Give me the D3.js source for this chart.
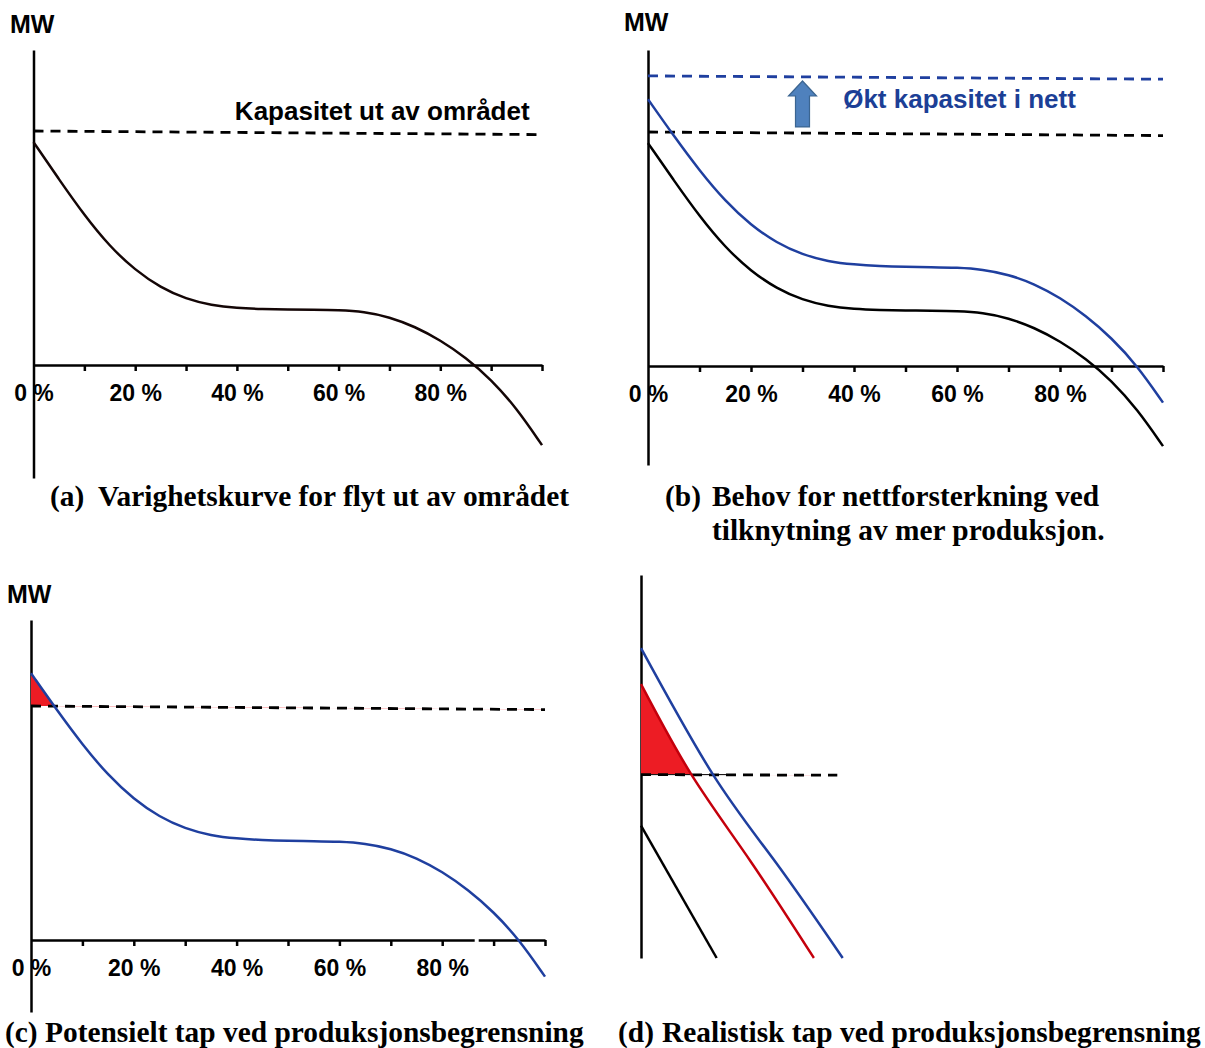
<!DOCTYPE html>
<html>
<head>
<meta charset="utf-8">
<script src="https://cdn.jsdelivr.net/npm/d3@7"></script>
<style>
  html, body { margin: 0; padding: 0; background: #fff; }
  svg { display: block; }
</style>
</head>
<body>
<svg id="fig" width="1205" height="1048"></svg>
<script>
// ---- Duration curves: share of time (%) against flow (MW, relative units) ----
const durationPct = [0, 5, 10, 15, 20, 25, 30, 35, 40, 45, 50, 55, 60, 65, 70, 75, 80, 85, 90, 95, 100];
// flow out of the area today
const flowMW = [74.3, 61.9, 49.9, 39.5, 31.6, 25.8, 22.0, 19.9, 19.0, 18.65, 18.5, 18.4, 18.3, 17.8, 16.0, 12.8, 8.3, 2.5, -4.8, -14.4, -26.7];
// flow with more production connected
const flowMoreMW = [88.9, 76.7, 65.1, 54.9, 46.9, 41.0, 37.1, 34.8, 33.8, 33.3, 33.05, 32.95, 32.8, 32.2, 30.5, 27.4, 22.8, 16.8, 9.4, 0.1, -12.2];

// transfer capacity out of the area (existing and reinforced grid)
const capacityPct = [0, 100];
const capacityMW = [78.0, 76.8];
const capacityNewMW = [96.7, 95.6];

// axis ticks
const tickPct = [10, 20, 30, 40, 50, 60, 70, 80, 90, 100];
const labelPct = [0, 20, 40, 60, 80];

// reinforcement arrow (panel b)
const arrowPct = 30;
const arrowFromMW = 79.7;
const arrowToMW = 95.0;

// ---- Panel (d): close-up of the first part of the duration axis ----
const zoomInstalledPct = [0, 4.0, 7.5, 11.2];
const zoomInstalledMW = [88.9, 78.0, 70.4, 62.2];
const zoomRealisticPct = [0, 2.8, 6.1, 9.6];
const zoomRealisticMW = [85.8, 78.0, 70.5, 62.2];
const zoomTodayPct = [0, 4.2];
const zoomTodayMW = [73.6, 62.2];
const zoomCapPct = [0, 10.9];
const zoomCapMW = [78.0, 77.95];
const zoomCapGuidePct = [0, 5.1];

// ---- Texts ----
const yLabel = "MW";
const capacityLabel = "Kapasitet ut av området";
const newCapacityLabel = "Økt kapasitet i nett";
const captionA = ["(a)", "Varighetskurve for flyt ut av området"];
const captionB = ["(b)", "Behov for nettforsterkning ved", "tilknytning av mer produksjon."];
const captionC = ["(c)", "Potensielt tap ved produksjonsbegrensning"];
const captionD = ["(d)", "Realistisk tap ved produksjonsbegrensning"];

// ---- Styles ----
const BLACK = "#000";
const BLUE = "#1f3f9f";
const BLUE_TEXT = "#1c3f96";
const RED_FILL = "#ed1c24";
const RED_LINE = "#c4000c";
const SANS = "'Liberation Sans', Arial, Helvetica, sans-serif";
const SERIF = "'Liberation Serif', 'Times New Roman', Times, serif";
const LW = 2.5;
const DASH_W = 2.8;
const DASH = "10,7";

const svg = d3.select("#fig");
const defs = svg.append("defs");
const pts = (xs, ys) => d3.zip(xs, ys);

// A panel: x over 0–100 %, y in MW with 3 px per unit, zero on the x axis.
function makePanel(left, right, axisY, top, bottom) {
  const x = d3.scaleLinear().domain([0, 100]).range([left, right]);
  const y = d3.scaleLinear()
    .domain([(axisY - bottom) / 3, (axisY - top) / 3])
    .range([bottom, top]);
  return { x, y };
}

function drawYAxis(g, x, y) {
  const ax = g.append("g")
    .attr("transform", `translate(${x.range()[0]},0)`)
    .call(d3.axisLeft(y).tickValues([]).tickSizeOuter(0));
  ax.select(".domain").attr("stroke", BLACK).attr("stroke-width", LW);
}

function drawXAxis(g, x, y) {
  const ax = g.append("g")
    .attr("transform", `translate(0,${y(0)})`)
    .call(d3.axisBottom(x).tickValues(tickPct).tickSize(6).tickSizeOuter(0).tickFormat(""));
  ax.select(".domain").attr("stroke", BLACK).attr("stroke-width", LW);
  ax.selectAll(".tick line").attr("stroke", BLACK).attr("stroke-width", LW);

  const lab = g.append("g")
    .attr("transform", `translate(0,${y(0)})`)
    .call(d3.axisBottom(x).tickValues(labelPct).tickSize(0).tickPadding(20)
      .tickFormat(d => d + " %"));
  lab.select(".domain").remove();
  lab.selectAll("text")
    .attr("font-family", SANS).attr("font-weight", "bold")
    .attr("font-size", 23).attr("fill", BLACK);
  lab.attr("font-family", null).attr("font-size", null);
  return ax;
}

function drawCurve(g, x, y, xs, ys, color, opts = {}) {
  const line = d3.line().x(d => x(d[0])).y(d => y(d[1]))
    .curve(opts.curve || d3.curveLinear);
  g.append("path").datum(pts(xs, ys))
    .attr("d", line)
    .attr("fill", "none")
    .attr("stroke", color)
    .attr("stroke-width", opts.width || LW)
    .attr("stroke-dasharray", opts.dashed ? DASH : null);
}
const dashed = { dashed: true, width: DASH_W };
const smooth = { curve: d3.curveBasis };
const smoothFew = { curve: d3.curveNatural };

// Red area where a curve lies above the capacity line.
function drawExcess(g, id, x, y, curvePct, curveMW, capPct, capMW, curve) {
  const capAt = d3.scaleLinear().domain(capPct).range(capMW);
  const top = y.range()[1];
  const above = d3.area().x(d => x(d)).y0(top).y1(d => y(capAt(d)));
  defs.append("clipPath").attr("id", id)
    .append("path").attr("d", above(capPct));
  const area = d3.area()
    .x(d => x(d[0]))
    .y0(d => y(capAt(d[0])))
    .y1(d => y(d[1]))
    .curve(curve);
  g.append("path").datum(pts(curvePct, curveMW))
    .attr("d", area)
    .attr("fill", RED_FILL)
    .attr("clip-path", `url(#${id})`);
}

function drawMW(g, xPos, yPos) {
  g.append("text").attr("x", xPos).attr("y", yPos)
    .attr("font-family", SANS).attr("font-weight", "bold")
    .attr("font-size", 25).attr("fill", BLACK).text(yLabel);
}

function drawCaption(lines, xLabel, xText, yBase) {
  const t = svg.append("g").attr("font-family", SERIF).attr("font-weight", "bold")
    .attr("font-size", 29.4).attr("fill", BLACK);
  t.append("text").attr("x", xLabel).attr("y", yBase).text(lines[0]);
  lines.slice(1).forEach((s, i) => {
    t.append("text").attr("x", xText).attr("y", yBase + i * 34).text(s);
  });
}

// ================= Panel (a) =================
{
  const g = svg.append("g");
  const { x, y } = makePanel(33.5, 542, 365, 50, 478);
  drawYAxis(g, x, y);
  drawXAxis(g, x, y);
  drawCurve(g, x, y, capacityPct, capacityMW, BLACK, dashed);
  drawCurve(g, x, y, durationPct, flowMW, "#140606", smooth);
  drawMW(g, 10, 33);
  g.append("text").attr("x", x(39.6)).attr("y", y(81.7))
    .attr("font-family", SANS).attr("font-weight", "bold")
    .attr("font-size", 26).attr("fill", BLACK).text(capacityLabel);
}

// ================= Panel (b) =================
{
  const g = svg.append("g");
  const { x, y } = makePanel(648, 1163, 366, 50, 465);
  drawYAxis(g, x, y);
  drawXAxis(g, x, y);
  drawCurve(g, x, y, capacityPct, capacityNewMW, BLUE, dashed);
  drawCurve(g, x, y, capacityPct, capacityMW, BLACK, dashed);
  drawCurve(g, x, y, durationPct, flowMW, BLACK, smooth);
  drawCurve(g, x, y, durationPct, flowMoreMW, BLUE, smooth);
  drawMW(g, 624, 31);

  // upward arrow from existing to reinforced capacity
  const xc = x(arrowPct), yb = y(arrowFromMW), yt = y(arrowToMW);
  const head = 15, shaftHalf = 7, headHalf = 14;
  const arrow = d3.path();
  arrow.moveTo(xc - shaftHalf, yb);
  arrow.lineTo(xc - shaftHalf, yt + head);
  arrow.lineTo(xc - headHalf, yt + head);
  arrow.lineTo(xc, yt);
  arrow.lineTo(xc + headHalf, yt + head);
  arrow.lineTo(xc + shaftHalf, yt + head);
  arrow.lineTo(xc + shaftHalf, yb);
  arrow.closePath();
  g.append("path").attr("d", arrow.toString())
    .attr("fill", "#4f81bd").attr("stroke", "#3b6591").attr("stroke-width", 1.2);

  g.append("text").attr("x", x(37.9)).attr("y", y(86.0))
    .attr("font-family", SANS).attr("font-weight", "bold")
    .attr("font-size", 26).attr("fill", BLUE_TEXT).text(newCapacityLabel);
}

// ================= Panel (c) =================
{
  const g = svg.append("g");
  const { x, y } = makePanel(31, 545, 940, 620, 1012);
  drawYAxis(g, x, y);
  drawXAxis(g, x, y);
  // small break in the x axis where today's curve crosses zero
  let cross = null;
  for (let i = 0; i < flowMW.length - 1; i++) {
    if (flowMW[i] > 0 && flowMW[i + 1] <= 0) {
      const t = flowMW[i] / (flowMW[i] - flowMW[i + 1]);
      cross = durationPct[i] + t * (durationPct[i + 1] - durationPct[i]);
    }
  }
  if (cross !== null) {
    g.append("line")
      .attr("x1", x(cross) - 2).attr("x2", x(cross) + 2)
      .attr("y1", y(0)).attr("y2", y(0))
      .attr("stroke", "#fff").attr("stroke-width", 4);
  }
  drawExcess(g, "clip-c", x, y, durationPct, flowMoreMW, capacityPct, capacityMW, d3.curveBasis);
  drawCurve(g, x, y, capacityPct, capacityMW, BLACK, dashed);
  drawCurve(g, x, y, durationPct, flowMoreMW, BLUE, smooth);
  drawMW(g, 7, 603);
}

// ================= Panel (d) =================
{
  const g = svg.append("g");
  const x = d3.scaleLinear().domain([0, 11.2]).range([641, 842.7]);
  const y = d3.scaleLinear().domain([62.2, 95.2]).range([958, 575]);
  drawYAxis(g, x, y);
  drawExcess(g, "clip-d", x, y, zoomRealisticPct, zoomRealisticMW, zoomCapPct, zoomCapMW, d3.curveNatural);
  drawCurve(g, x, y, zoomCapGuidePct, [zoomCapMW[0], zoomCapMW[0]], BLACK, { width: 1 });
  drawCurve(g, x, y, zoomCapPct, zoomCapMW, BLACK, dashed);
  drawCurve(g, x, y, zoomTodayPct, zoomTodayMW, BLACK);
  drawCurve(g, x, y, zoomRealisticPct, zoomRealisticMW, RED_LINE, smoothFew);
  drawCurve(g, x, y, zoomInstalledPct, zoomInstalledMW, BLUE, smoothFew);
}

// ================= Captions =================
drawCaption(captionA, 50, 98, 506);
drawCaption(captionB, 665, 712, 506);
drawCaption(captionC, 5, 45, 1042);
drawCaption(captionD, 618, 662, 1042);
</script>
</body>
</html>
